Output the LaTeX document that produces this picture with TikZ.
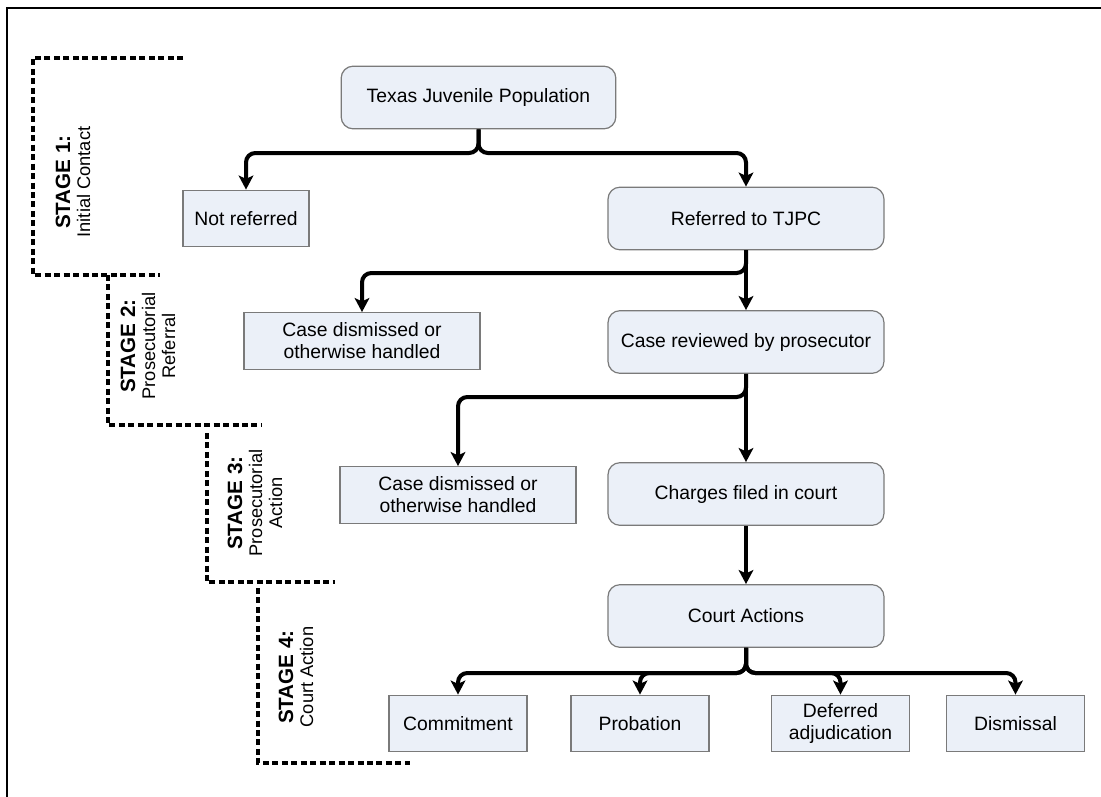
\documentclass[tikz,border=0pt]{standalone}
\usepackage{fontspec}
\setmainfont{Liberation Sans}
\usepackage{tikz}
\usetikzlibrary{arrows.meta}
\definecolor{boxfill}{HTML}{EBF0F8}
\definecolor{boxline}{HTML}{7A7A7A}
\newcommand{\stagehead}[1]{{\fontsize{15.5pt}{15pt}\selectfont\bfseries STAGE #1:}}

\begin{document}
\begin{tikzpicture}[x=0.75pt,y=-0.75pt,
  rbox/.style={draw=boxline,fill=boxfill,line width=0.9pt,rounded corners=9pt,
    minimum width=207pt,minimum height=47pt,inner sep=0pt,align=center,
    font=\fontsize{14.5pt}{16.5pt}\selectfont},
  sbox/.style={draw=boxline,fill=boxfill,line width=0.9pt,
    minimum height=42.5pt,inner sep=0pt,align=center,
    font=\fontsize{14.5pt}{16.5pt}\selectfont},
  conn/.style={line width=3pt,rounded corners=7pt,-{Stealth[length=10.5pt,width=11pt,inset=2.5pt]}},
  stageline/.style={line width=2.4pt,dash pattern=on 4.5pt off 2.6pt},
  stagelabel/.style={rotate=90,align=center,inner sep=0pt,font=\fontsize{13.7pt}{15pt}\selectfont}]
\useasboundingbox (0,0) rectangle (1101,797);

% frame
\draw[line width=2pt] (7,797) -- (7,8) -- (1101,8);

% stage borders
\draw[stageline] (183,58) -- (33,58) -- (33,275) -- (160,275);
\draw[stageline] (108,275) -- (108,425) -- (262,425);
\draw[stageline] (207,433) -- (207,582) -- (335,582);
\draw[stageline] (258,588) -- (258,763) -- (410,763);

\node[stagelabel] (st1) at (73,182) {\stagehead{1}\\Initial Contact};
\node[stagelabel] (st2) at (148,346) {\stagehead{2}\\Prosecutorial\\Referral};
\node[stagelabel] (st3) at (255,503) {\stagehead{3}\\Prosecutorial\\Action};
\node[stagelabel] (st4) at (296,677) {\stagehead{4}\\Court Action};

% boxes
\node[rbox,minimum width=206pt] (tjp) at (478.5,97.5) {Texas Juvenile Population};
\node[sbox,minimum width=94.5pt] (notref) at (246,218.5) {Not referred};
\node[rbox] (ref) at (746,218.5) {Referred to TJPC};
\node[sbox,minimum width=177pt] (cd1) at (362,341) {Case dismissed or\\otherwise handled};
\node[rbox] (rev) at (746,342) {Case reviewed by prosecutor};
\node[sbox,minimum width=177pt] (cd2) at (458,495) {Case dismissed or\\otherwise handled};
\node[rbox] (chg) at (746,494) {Charges filed in court};
\node[rbox] (ca) at (746,616) {Court Actions};
\node[sbox,minimum width=103.5pt] (com) at (458,723.5) {Commitment};
\node[sbox,minimum width=103.5pt] (prob) at (640,723.5) {Probation};
\node[sbox,minimum width=103pt] (def) at (840.5,723.5) {Deferred\\adjudication};
\node[sbox,minimum width=103pt] (dis) at (1015.5,723.5) {Dismissal};

% junctions
\coordinate (j1) at (478.5,153);
\coordinate (j2) at (746,273);
\coordinate (j3) at (746,397);
\coordinate (j4) at (746,673);

% connectors
\draw[conn] (tjp.south) -- (j1) -| (notref.north);
\draw[conn] (tjp.south) -- (j1) -| (ref.north);
\draw[conn] (ref.south) -- (rev.north);
\draw[conn] (ref.south) -- (j2) -| (cd1.north);
\draw[conn] (rev.south) -- (chg.north);
\draw[conn] (rev.south) -- (j3) -| (cd2.north);
\draw[conn] (chg.south) -- (ca.north);
\foreach \b in {com,prob,def,dis}
  \draw[conn] (ca.south) -- (j4) -| (\b.north);

\end{tikzpicture}
\end{document}
